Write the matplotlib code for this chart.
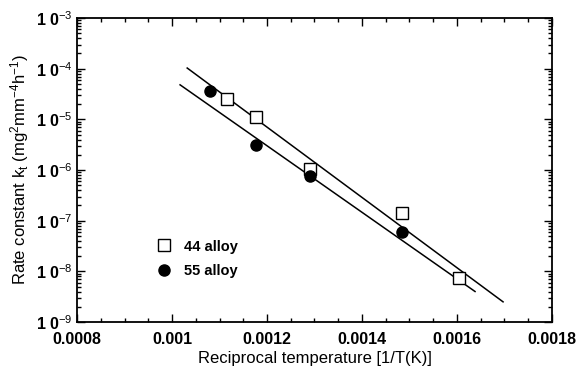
import matplotlib
matplotlib.use("Agg")
import matplotlib.pyplot as plt
from matplotlib.ticker import MultipleLocator, LogLocator

plt.rcParams['font.family'] = ['Liberation Sans', 'DejaVu Sans']
plt.rcParams['mathtext.fontset'] = 'custom'
plt.rcParams['mathtext.rm'] = 'Liberation Sans'
plt.rcParams['mathtext.it'] = 'Liberation Sans'
plt.rcParams['mathtext.bf'] = 'Liberation Sans:bold'

# measured points
x44 = [0.001116, 0.001177, 0.001291, 0.001484, 0.001604]
k44 = [2.5e-5, 1.1e-5, 1.05e-6, 1.4e-7, 7.4e-9]
x55 = [0.00108, 0.001177, 0.001291, 0.001484]
k55 = [3.6e-5, 3.1e-6, 7.7e-7, 6.0e-8]

# fitted lines (end points)
fit44_x = [0.001032, 0.001697]
fit44_k = [1.03e-4, 2.5e-9]
fit55_x = [0.001017, 0.001638]
fit55_k = [4.8e-5, 4.0e-9]

ytick_vals = [1e-9, 1e-8, 1e-7, 1e-6, 1e-5, 1e-4, 1e-3]
ytick_labels = ['1 0$^{-9}$', '1 0$^{-8}$', '1 0$^{-7}$', '1 0$^{-6}$',
                '1 0$^{-5}$', '1 0$^{-4}$', '1 0$^{-3}$']
xtick_vals = [0.0008, 0.001, 0.0012, 0.0014, 0.0016, 0.0018]
xtick_labels = ['0.0008', '0.001', '0.0012', '0.0014', '0.0016', '0.0018']

fig = plt.figure(figsize=(5.76, 3.73), dpi=100)
ax = fig.add_axes([0.1337, 0.1367, 0.8246, 0.815])

ax.plot(fit44_x, fit44_k, color='black', lw=1.1)
ax.plot(fit55_x, fit55_k, color='black', lw=1.1)
ax.plot(x44, k44, ls='none', marker='s', ms=8, mfc='white', mec='black', mew=1.0,
        label='44 alloy')
ax.plot(x55, k55, ls='none', marker='o', ms=8, mfc='black', mec='black',
        label='55 alloy')

ax.set_yscale('log')
ax.set_xlim(0.0008, 0.0018)
ax.set_ylim(1e-9, 1e-3)

ax.set_xticks(xtick_vals)
ax.set_xticklabels(xtick_labels)
ax.xaxis.set_minor_locator(MultipleLocator(0.00005))
ax.set_yticks(ytick_vals)
ax.set_yticklabels(ytick_labels)
ax.yaxis.set_minor_locator(LogLocator(base=10, subs=range(2, 10), numticks=20))

ax.tick_params(which='both', direction='in', top=True, right=True, width=1.0)
ax.tick_params(which='major', length=6, labelsize=11.5)
ax.tick_params(which='minor', length=3)
ax.tick_params(axis='x', which='major', pad=7)
ax.tick_params(axis='y', which='major', pad=3)
for lab in ax.get_xticklabels() + ax.get_yticklabels():
    lab.set_fontweight('bold')
for s in ax.spines.values():
    s.set_linewidth(1.3)

ax.set_xlabel('Reciprocal temperature [1/T(K)]', fontsize=12, labelpad=3)
ax.set_ylabel('Rate constant k$_\\mathrm{t}$ (mg$^2$mm$^{-4}$h$^{-1}$)', fontsize=12, labelpad=4)

ax.legend(loc='lower left', bbox_to_anchor=(0.14, 0.1), frameon=False,
          handletextpad=0.9, labelspacing=0.75, handlelength=1.0,
          prop={'weight': 'bold', 'size': 10.5})

fig.savefig('out.png', dpi=100)
